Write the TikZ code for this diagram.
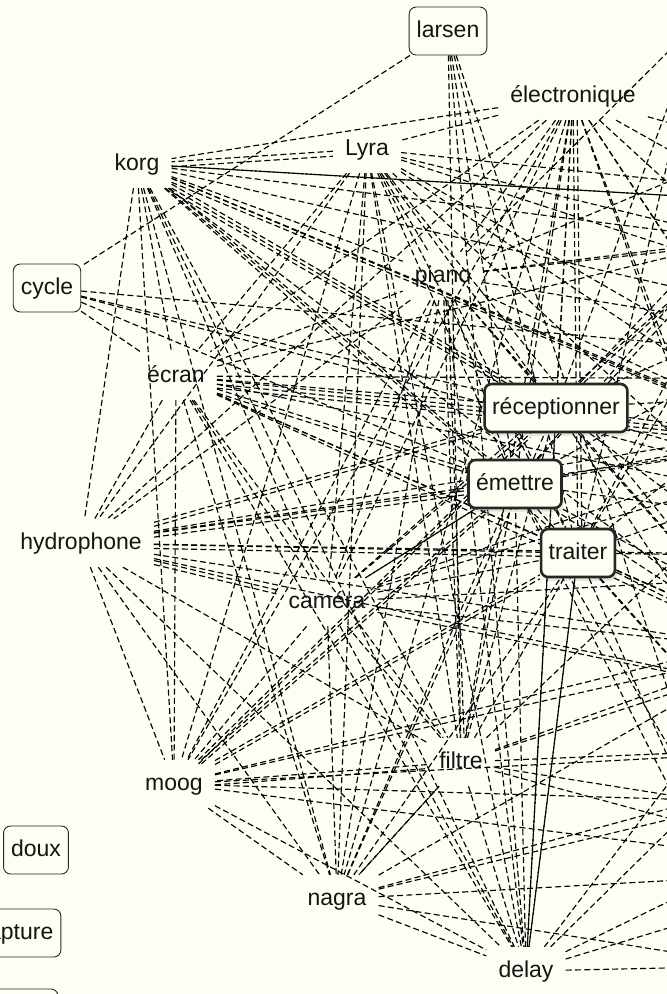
\documentclass[tikz,border=0pt]{standalone}
\usepackage{fontspec}
\setmainfont{Liberation Sans}
\usetikzlibrary{shadows}
\definecolor{bg}{RGB}{254,254,244}
\pgfdeclarelayer{bgl}
\pgfdeclarelayer{edges}
\pgfsetlayers{bgl,edges,main}
\begin{document}
\begin{tikzpicture}[x=1pt,y=-1pt,
  lbl/.style={font=\fontsize{23}{27}\selectfont, text=black!92, text height=17pt, text depth=5pt, inner xsep=12pt, inner ysep=13pt},
  boxed/.style={lbl, draw=black!85, line width=0.9pt, rounded corners=7pt, inner xsep=7.5pt},
  hub/.style={boxed, line width=2.6pt, fill=bg, drop shadow={opacity=0.18, shadow xshift=2pt, shadow yshift=-4pt}},
  edge/.style={draw=black, line width=1.15pt, dash pattern=on 6pt off 3.3pt},
  twin/.style={edge, dash phase=4.6pt},
]
\useasboundingbox (0,0) rectangle (667,994);
\begin{pgfonlayer}{bgl}
\fill[bg] (0,0) rectangle (667,994);
\end{pgfonlayer}

\node[boxed] (la) at (448,31) {larsen};
\node[lbl] (el) at (573,96) {électronique};
\node[lbl] (ly) at (367,149) {Lyra};
\node[lbl] (ko) at (137,164) {korg};
\node[boxed] (cy) at (47,288) {cycle};
\node[lbl] (ec) at (176,376) {écran};
\node[lbl] (pi) at (443,276) {piano};
\node[hub] (re) at (556,408) {réceptionner};
\node[hub] (em) at (515,484) {émettre};
\node[lbl] (hy) at (81,543) {hydrophone};
\node[hub] (tr) at (578,553) {traiter};
\node[lbl] (ca) at (327,602) {caméra};
\node[lbl] (fi) at (461,762) {filtre};
\node[lbl] (mo) at (174,784) {moog};
\node[boxed] (dx) at (36,850) {doux};
\node[boxed] (cp) at (15,933) {capture};
\node[boxed, minimum width=90pt] (bx) at (13,1013) {\phantom{x}};
\node[lbl] (na) at (337,899) {nagra};
\node[lbl] (de) at (526,971) {delay};

\coordinate (A) at (700,20);
\coordinate (B) at (840,110);
\coordinate (C) at (1000,215);
\coordinate (D) at (1080,380);
\coordinate (E) at (1080,560);
\coordinate (F) at (1000,740);
\coordinate (G) at (860,870);
\coordinate (H) at (760,966);
\coordinate (I) at (740,240);
\coordinate (J) at (800,440);
\coordinate (K) at (770,650);
\coordinate (L) at (700,800);

\begin{pgfonlayer}{edges}
\clip (0,0) rectangle (667,994);
\foreach \b in {cy,fi,de,em,tr,H} \draw[edge] (la) -- (\b);
\foreach \b in {ko,ly,ec,hy,pi,ca,mo,na,fi,de,re,em,tr,C,D,E,F,G,J,K} \draw[edge] (el) -- (\b);
\foreach \b in {ko,C,D,I,J,pi,re,em,tr,ca,fi,na,de,mo,hy,ec,K,E,F} \draw[edge] (ly) -- (\b);
\foreach \b in {C,pi,re,em,tr,ca,fi,ec,hy,mo,na,de,I,J,K,D,E} \draw[edge] (ko) -- (\b);
\foreach \b in {ec,re,em,D,E} \draw[edge] (cy) -- (\b);
\foreach \b in {hy,pi,re,em,tr,ca,fi,mo,na,de,I,J,K,D,E,F} \draw[edge] (ec) -- (\b);
\foreach \b in {re,em,tr,ca,fi,na,de,mo,hy,A,B,C,I,J,D,K} \draw[edge] (pi) -- (\b);
\foreach \b in {re,em,tr,ca,fi,mo,na,de,J,K,E,D,F} \draw[edge] (hy) -- (\b);
\foreach \b in {mo,na,de,fi,re,em,tr,I,J,K,E,F,D} \draw[edge] (ca) -- (\b);
\foreach \b in {mo,na,de,re,em,tr,J,K,E,F,L,G} \draw[edge] (fi) -- (\b);
\foreach \b in {re,em,tr,na,de,F,G,K,E,L} \draw[edge] (mo) -- (\b);
\foreach \b in {re,em,tr,de,G,H,F,K,L} \draw[edge] (na) -- (\b);
\foreach \b in {re,em,tr,H,G,F,K,L} \draw[edge] (de) -- (\b);
\foreach \b in {A,B,C,D,E,F,G,I,J,K} \draw[edge] (re) -- (\b);
\foreach \b in {B,C,D,E,F,G,H,I,J,K,L} \draw[edge] (em) -- (\b);
\foreach \b in {A,B,C,D,E,F,G,H,I,K} \draw[edge] (tr) -- (\b);

\foreach \a/\b/\sx/\sy in {ko/ly/0/5, ko/re/0/4, ko/re/0/8, ko/J/0/4, ec/J/0/4, ec/J/0/8,
  ec/em/0/4, hy/re/0/4, hy/em/0/4, hy/tr/0/4, hy/ca/0/4, mo/em/0/4, mo/tr/0/4, mo/re/0/4,
  mo/fi/0/4, el/tr/4/0, pi/fi/4/0, ko/em/4/0}
  \draw[edge, transform canvas={shift={(\sx,\sy)}}] (\a) -- (\b);

\foreach \a/\b in {ko/C, na/fi, de/tr, ca/em}
  \draw[twin] (\a) -- (\b);
\end{pgfonlayer}
\end{tikzpicture}
\end{document}
